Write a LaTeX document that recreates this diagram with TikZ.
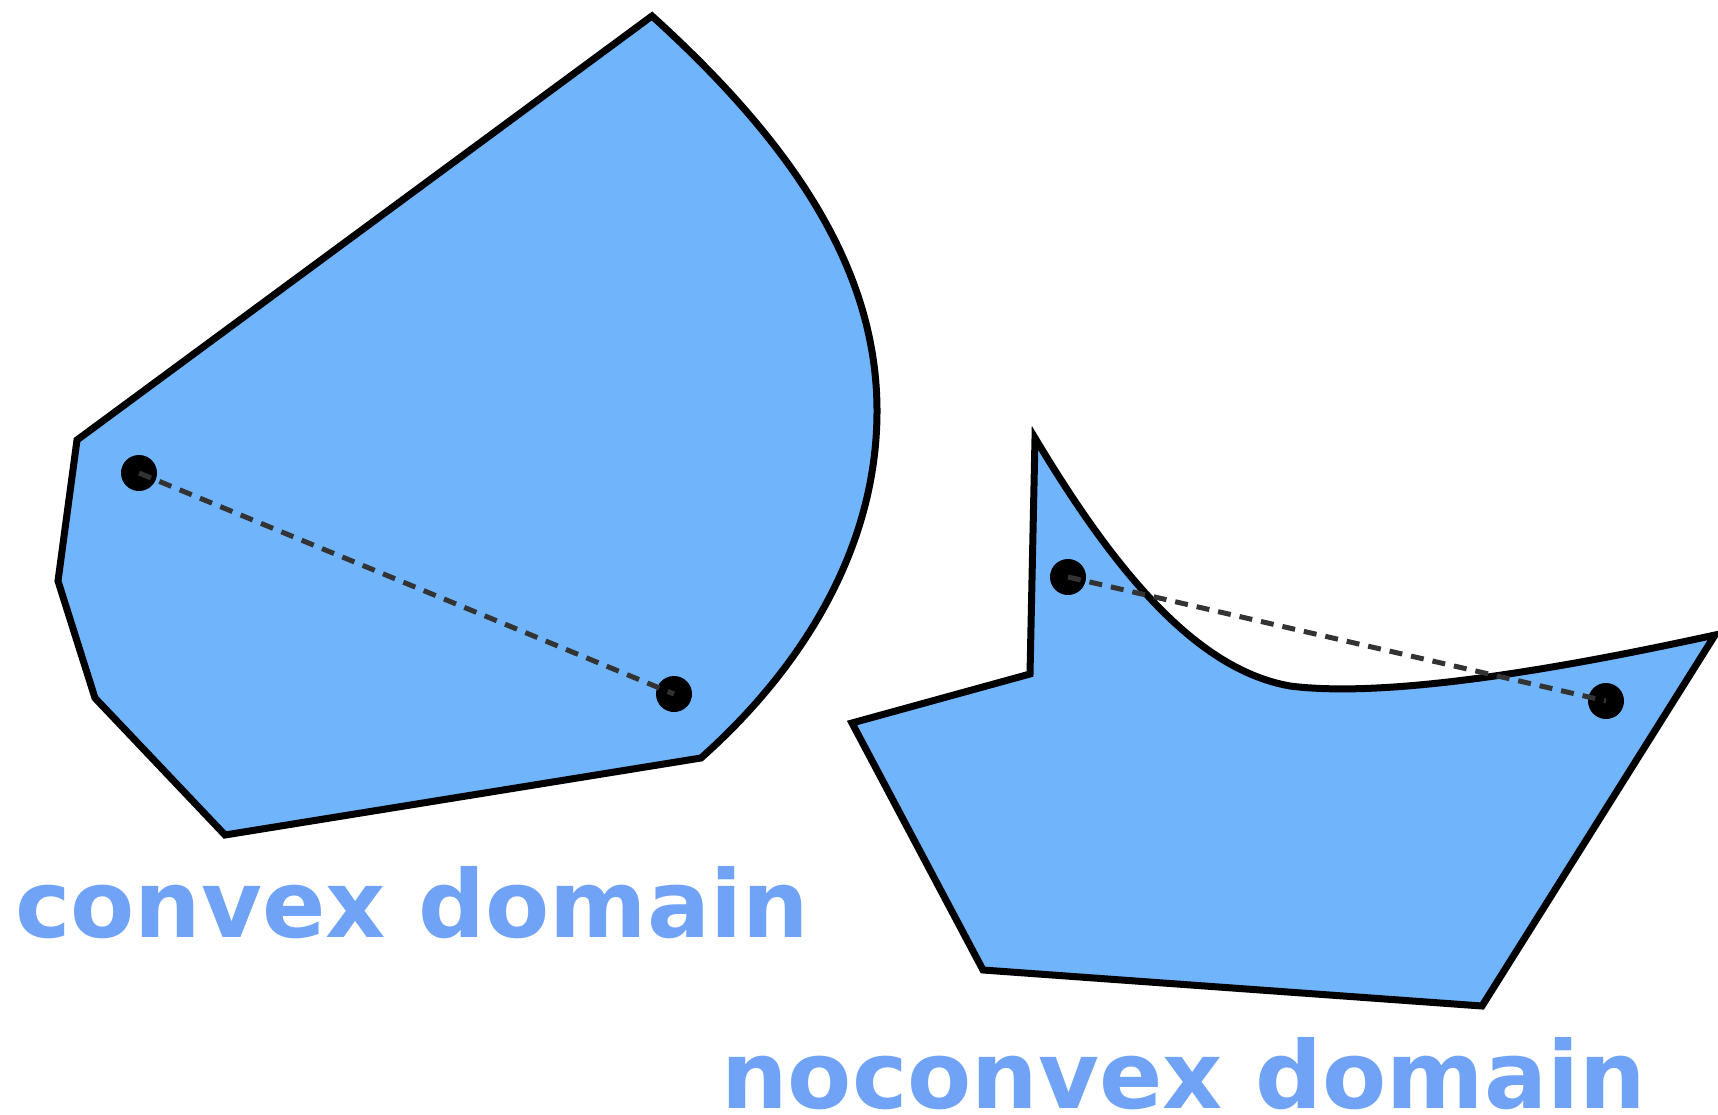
\documentclass[tikz,border=0pt]{standalone}
\usepackage{fontspec}
\setmainfont{DejaVu Sans}
\definecolor{fillblue}{HTML}{70B4FC}
\definecolor{textblue}{HTML}{70A3F5}
\definecolor{dashgray}{HTML}{333333}
\tikzset{
  region/.style={fill=fillblue, draw=black, line width=7pt, line join=miter},
  chord/.style={draw=dashgray, line width=5pt, dash pattern=on 13pt off 9pt},
  dot/.style={circle, fill=black, inner sep=0pt, minimum size=36pt},
  label/.style={text=textblue, font=\fontsize{93.5}{100}\selectfont\bfseries, inner sep=0pt, text depth=0pt, anchor=base west}
}
\begin{document}
\begin{tikzpicture}[x=1pt,y=-1pt]
\useasboundingbox (0,0) rectangle (1718,1115);
% convex domain
\path[region] (652,16) -- (77,440) -- (58,581) -- (95,698) -- (225,835) -- (701,758)
  .. controls (800,670) and (877,550) .. (877,411)
  .. controls (877,275) and (800,150) .. (652,16) -- cycle;
\node[dot] (a1) at (139,473) {};
\node[dot] (a2) at (674,694) {};
\draw[chord] (a1.center) -- (a2.center);
% nonconvex domain
\path[region] (1035,438) -- (1030,674) -- (852,723) -- (983,970) -- (1482,1006) -- (1715,635)
  .. controls (1600,660) and (1400,700) .. (1290,686)
  .. controls (1200,670) and (1120,580) .. (1035,438) -- cycle;
\node[dot] (b1) at (1068,577) {};
\node[dot] (b2) at (1606,701) {};
\draw[chord] (b1.center) -- (b2.center);
% labels
\node[label] (l1) at (15,937) {convex domain};
\node[label] (l2) at (721,1108) {noconvex domain};
\end{tikzpicture}
\end{document}
